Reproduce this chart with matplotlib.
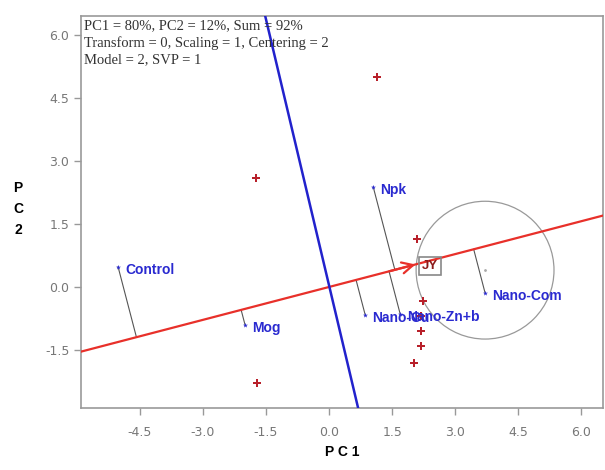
import numpy as np
import matplotlib.pyplot as plt
from matplotlib.patches import Circle

# Genotypes (blue)
gen_names = ['Control', 'Mog', 'Npk', 'Nano-Cu', 'Nano-Zn+b', 'Nano-Com']
gen_pc1 = [-5.02, -2.00, 1.05, 0.86, 1.69, 3.71]
gen_pc2 = [0.48, -0.90, 2.38, -0.67, -0.64, -0.14]

# Environments (red plus markers)
env_pc1 = [1.14, -1.74, 2.10, 2.24, 2.19, 2.19, 2.19, 2.02, -1.71]
env_pc2 = [5.00, 2.60, 1.14, -0.33, -0.69, -1.05, -1.40, -1.81, -2.29]

# Average environment axis end point and the perpendicular axis end points
aea = [2.12, 0.553]
perp_x = [-1.52, 0.69]
perp_y = [6.45, -2.88]

# Concentric circle (ideal genotype)
circ_center = [3.71, 0.40]
circ_radius = 1.64

info = ['PC1 = 80%, PC2 = 12%, Sum = 92%',
        'Transform = 0, Scaling = 1, Centering = 2',
        'Model = 2, SVP = 1']

xticks = [-4.5, -3.0, -1.5, 0.0, 1.5, 3.0, 4.5, 6.0]
yticks = [-1.5, 0.0, 1.5, 3.0, 4.5, 6.0]
xlim = (-5.9, 6.52)
ylim = (-2.88, 6.45)

fig = plt.figure(figsize=(6.05, 4.70), dpi=100)
ax = fig.add_axes([0.134, 0.132, 0.863, 0.834])
ax.set_xlim(xlim)
ax.set_ylim(ylim)

# Red AEA line across the plot, with arrow at the average environment
d = np.array(aea) / np.hypot(*aea)
t = np.array([xlim[0] / d[0], xlim[1] / d[0]])
ax.plot(t * d[0], t * d[1], color='#e8302a', lw=1.6, zorder=3)
ax.annotate('', xy=aea, xytext=(aea[0] - 0.75, aea[1] - 0.75 * d[1] / d[0]),
            arrowprops=dict(arrowstyle='->', color='#e8302a', lw=1.6,
                            mutation_scale=20), zorder=4)

# Blue perpendicular line
ax.plot(perp_x, perp_y, color='#2222cc', lw=1.8, zorder=3)

# Projection lines from genotypes onto the AEA
for gx, gy in zip(gen_pc1, gen_pc2):
    s = gx * d[0] + gy * d[1]
    ax.plot([gx, s * d[0]], [gy, s * d[1]], color='#555555', lw=0.8, zorder=2)

# Circle
ax.add_patch(Circle(circ_center, circ_radius, fill=False, ec='#999999', lw=0.9))
ax.plot(*circ_center, marker='.', ms=2, color='#aaaaaa')

# Box at the average environment
ax.text(aea[0] + 0.28, aea[1] - 0.05, 'JY', color='#8b1a1a', fontsize=9.5,
        ha='center', va='center', family='Liberation Sans', fontweight='bold',
        bbox=dict(boxstyle='square,pad=0.25', fc='none', ec='#888888', lw=1.2))

# Environments
ax.scatter(env_pc1, env_pc2, marker='P', s=30, color='#b8202a', lw=0, zorder=5)

# Genotypes
ax.scatter(gen_pc1, gen_pc2, marker='*', s=14, color='#2a2ad0', lw=0, zorder=5)
for name, gx, gy in zip(gen_names, gen_pc1, gen_pc2):
    ax.annotate(name, (gx, gy), xytext=(5, -2), textcoords='offset points',
                ha='left', va='center', color='#2a2ad0', fontsize=10,
                fontweight='bold', family='Liberation Sans', zorder=6)

# Info text
for i, line in enumerate(info):
    ax.text(0.006, 0.993 - i * 0.044, line, transform=ax.transAxes, ha='left',
            va='top', fontsize=10.5, family='Liberation Serif', color='#333333')

ax.set_xticks(xticks)
ax.set_yticks(yticks)
ax.set_xticklabels([f'{v:.1f}' for v in xticks])
ax.set_yticklabels([f'{v:.1f}' for v in yticks])
ax.tick_params(axis='both', direction='out', length=5, width=1, color='#999999',
               labelcolor='#777777', labelsize=9)
ax.tick_params(axis='x', pad=8)
for sp in ax.spines.values():
    sp.set_color('#999999')
    sp.set_linewidth(1.2)

ax.set_xlabel('P C 1', fontsize=10, fontweight='bold', family='Liberation Sans',
              labelpad=4)
fig.text(0.03, 0.555, 'P\nC\n2', ha='center', va='center', fontsize=10,
         fontweight='bold', family='Liberation Sans', linespacing=1.65)

fig.savefig('out.png', dpi=100)
